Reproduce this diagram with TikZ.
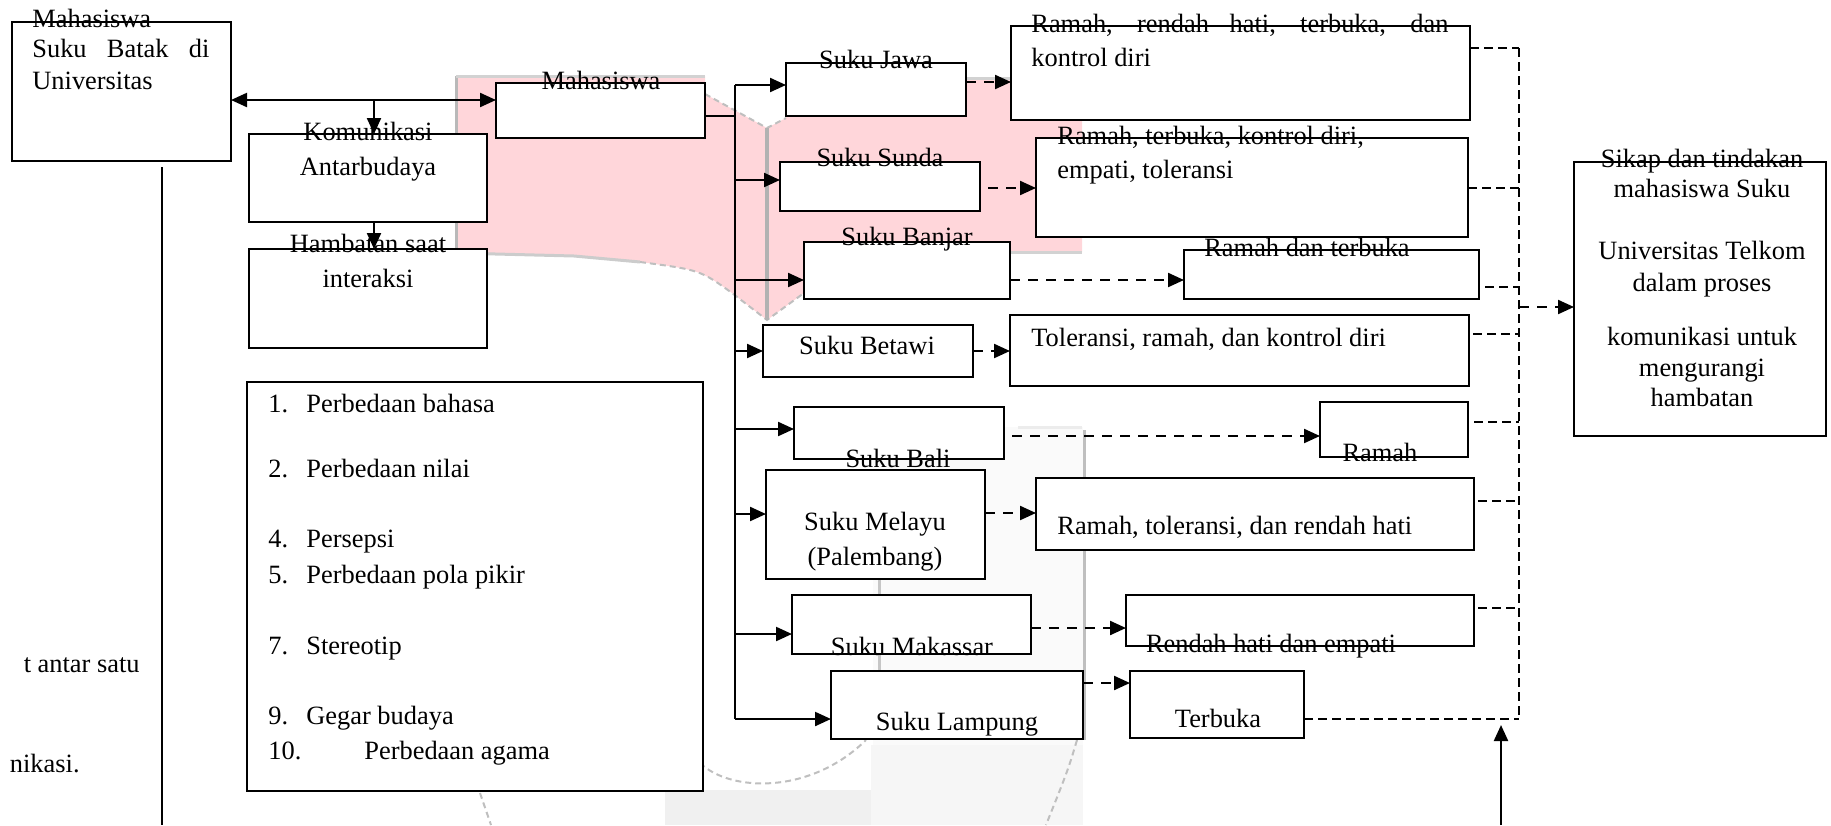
\documentclass[tikz,border=0pt]{standalone}
\usepackage{fontspec}
\setmainfont{Liberation Serif}
\usetikzlibrary{arrows.meta,fit}
\definecolor{logopink}{HTML}{FFD6DA}
\newcommand\ff{\fontsize{13.2pt}{16pt}\selectfont}
\newcommand\mkbox[5]{\node[bx, fit={(#2,#3) (#4,#5)}] (#1) {};}
\tikzset{
 bx/.style={draw, line width=0.8pt, fill=white, inner sep=0pt, outer sep=0pt},
 tx/.style={inner sep=0pt, font=\ff, anchor=mid, yshift=-2.5pt},
 txl/.style={inner sep=0pt, font=\ff, anchor=mid west, yshift=-2.5pt},
 tipstyle/.style={-{Triangle[length=8pt,width=7pt]}},
 arr/.style={line width=1.1pt, tipstyle},
 darr/.style={line width=1.1pt, dash pattern=on 5pt off 4pt, tipstyle},
 coll/.style={line width=0.6pt, dash pattern=on 4.5pt off 2.5pt},
 wm/.style={line width=1pt, dash pattern=on 3pt off 2pt},
}
\begin{document}
\begin{tikzpicture}[x=0.5pt,y=-0.5pt]
\useasboundingbox (0,0) rectangle (1831,825);
% ---- watermark (pink part)
\fill[logopink] (456,76) -- (705,76) -- (705,94) -- (767,128) -- (786,118) -- (786,77)
  -- (1082,77) -- (1082,252) -- (804,252) -- (804,293) -- (767,320) -- (732,293)
  .. controls (700,270) .. (640,262) -- (574,256) -- (456,253) -- cycle;
\draw[gray!55, line width=1.5pt] (456,76) -- (456,253);
\draw[gray!35, line width=1.5pt] (456,76) -- (705,76);
\draw[gray!40, line width=1.5pt] (456,253) -- (574,256) -- (640,262);
\draw[gray!50, wm] (705,94) -- (767,128) -- (786,118);
\draw[gray!50, wm] (640,262) .. controls (700,270) .. (732,293) -- (767,320) -- (804,293);
\draw[gray!60, line width=2pt] (767,128) -- (767,320);
\draw[gray!35, line width=1.5pt] (1010,252) -- (1082,252);
\draw[gray!35, line width=1.5pt] (966,78) -- (1010,78);
% ---- watermark (gray part)
\fill[gray!4] (873,427) rectangle (1083,825);
\fill[gray!12] (665,790) rectangle (871,825);
\fill[gray!7] (871,745) rectangle (1083,825);
\draw[gray!50, wm] (700,763) .. controls (730,792) and (810,795) .. (866,740);
\draw[gray!50, wm] (480,793) -- (491,825);
\draw[gray!50, wm] (1077,740) .. controls (1068,770) .. (1046,825);
\draw[gray!50, line width=1.5pt] (1084,430) -- (1084,740);
\draw[gray!45, line width=1.5pt] (879,579) -- (879,672);
\draw[gray!15, line width=1.5pt] (1018,427) -- (1082,427);
% ---- boxes
\mkbox{A}{12}{22}{231}{161}
\mkbox{kom}{249}{134}{487}{222}
\mkbox{ham}{249}{249}{487}{348}
\mkbox{list}{247}{382}{703}{791}
\mkbox{mhs}{496}{83}{705}{138}
\mkbox{jawa}{786}{63}{966}{116}
\mkbox{sunda}{780}{162}{980}{211}
\mkbox{banjar}{804}{242}{1010}{299}
\mkbox{betawi}{763}{325}{973}{377}
\mkbox{bali}{794}{407}{1004}{459}
\mkbox{melayu}{766}{470}{985}{579}
\mkbox{makassar}{792}{595}{1031}{654}
\mkbox{lampung}{831}{671}{1083}{739}
\mkbox{rA}{1011}{26}{1470}{120}
\mkbox{rB}{1036}{138}{1468}{237}
\mkbox{rC}{1184}{250}{1479}{299}
\mkbox{rD}{1010}{315}{1469}{386}
\mkbox{rE}{1320}{402}{1468}{457}
\mkbox{rF}{1036}{478}{1474}{550}
\mkbox{rG}{1126}{595}{1474}{646}
\mkbox{rH}{1130}{671}{1304}{738}
\mkbox{out}{1574}{162}{1826}{436}
% ---- connectors
\draw[line width=1.1pt, {Triangle[length=8pt,width=7pt]}-{Triangle[length=8pt,width=7pt]}]
  (A.east |- 0,100) -- (mhs.west |- 0,100);
\coordinate (k0) at (374,100);
\draw[arr] (k0) -- (kom.north -| k0);
\draw[arr] (kom.south -| k0) -- (ham.north -| k0);
\coordinate (v0) at (162,167);
\coordinate (v1) at (162,825);
\draw[line width=0.8pt] (v0) -- (v1);
\coordinate (t0) at (735,85);
\coordinate (t1) at (735,719);
\draw[line width=1.1pt] (mhs.east |- 0,116) -- (t0 |- 0,116);
\draw[line width=1.1pt] (t0) -- (t1);
\draw[arr] (t0) -- (jawa.west |- t0);
\draw[arr] (t0 |- 0,180) -- (sunda.west |- 0,180);
\draw[arr] (t0 |- 0,280) -- (banjar.west |- 0,280);
\draw[arr] (t0 |- 0,351) -- (betawi.west |- 0,351);
\draw[arr] (t0 |- 0,429) -- (bali.west |- 0,429);
\draw[arr] (t0 |- 0,514) -- (melayu.west |- 0,514);
\draw[arr] (t0 |- 0,634) -- (makassar.west |- 0,634);
\draw[arr] (t1) -- (lampung.west |- t1);
% dashed arrows to traits
\draw[darr] (jawa.east |- 0,82) -- (rA.west |- 0,82);
\draw[darr, shorten <=4pt] (sunda.east |- 0,188) -- (rB.west |- 0,188);
\draw[darr] (banjar.east |- 0,280) -- (rC.west |- 0,280);
\draw[darr] (betawi.east |- 0,351) -- (rD.west |- 0,351);
\draw[darr, shorten <=4pt] (bali.east |- 0,436) -- (rE.west |- 0,436);
\draw[darr] (melayu.east |- 0,513) -- (rF.west |- 0,513);
\draw[darr] (makassar.east |- 0,628) -- (rG.west |- 0,628);
\draw[darr] (lampung.east |- 0,683) -- (rH.west |- 0,683);
% collector
\coordinate (c0) at (1519,48);
\coordinate (c1) at (1519,719);
\draw[coll] (rA.east |- c0) -- (c0);
\draw[coll] (rB.east |- 0,188) -- (c0 |- 0,188);
\draw[coll, shorten <=3pt] (rC.east |- 0,287) -- (c0 |- 0,287);
\draw[coll, shorten <=2pt] (rD.east |- 0,334) -- (c0 |- 0,334);
\draw[coll, shorten <=3pt] (rE.east |- 0,422) -- (c0 |- 0,422);
\draw[coll, shorten <=2pt] (rF.east |- 0,501) -- (c0 |- 0,501);
\draw[coll, shorten <=2pt] (rG.east |- 0,608) -- (c0 |- 0,608);
\draw[coll] (c0) -- (c1);
\draw[coll] (rH.east |- c1) -- (c1);
\draw[darr] (c0 |- 0,307) -- (out.west |- 0,307);
\coordinate (u0) at (1501,825);
\coordinate (u1) at (1501,725);
\draw[arr] (u0) -- (u1);
% ---- texts
\node[txl] (tA1) at (32,18) {Mahasiswa};
\node[txl] (tA2) at (32,48) {\makebox[88.5pt][s]{Suku Batak di}};
\node[txl] (tA3) at (32,80) {Universitas};
\node[tx] (tk1) at (368,131) {Komunikasi};
\node[tx] (tk2) at (368,166) {Antarbudaya};
\node[tx] (th1) at (368,243) {Hambatan saat};
\node[tx] (th2) at (368,278) {interaksi};
\node[tx] (tm) at (601,80) {Mahasiswa};
\node[tx] (tj) at (876,59) {Suku Jawa};
\node[tx] (ts) at (880,157) {Suku Sunda};
\node[tx] (tbj) at (907,236) {Suku Banjar};
\node[tx] (tbt) at (867,345) {Suku Betawi};
\node[tx] (tbl) at (898,458) {Suku Bali};
\node[tx] (tml1) at (875,521) {Suku Melayu};
\node[tx] (tml2) at (875,556) {(Palembang)};
\node[tx] (tmk) at (912,646) {Suku Makassar};
\node[tx] (tlp) at (957,721) {Suku Lampung};
\node[txl] (trA1) at (1031,23) {\makebox[208.5pt][s]{Ramah, rendah hati, terbuka, dan}};
\node[txl] (trA2) at (1031,57) {kontrol diri};
\node[txl] (trB1) at (1057,135) {Ramah, terbuka, kontrol diri,};
\node[txl] (trB2) at (1057,169) {empati, toleransi};
\node[tx] (trC) at (1307,247) {Ramah dan terbuka};
\node[txl] (trD) at (1031,337) {Toleransi, ramah, dan kontrol diri};
\node[tx] (trE) at (1380,452) {Ramah};
\node[txl] (trF) at (1057,525) {Ramah, toleransi, dan rendah hati};
\node[tx] (trG) at (1271,643) {Rendah hati dan empati};
\node[tx] (trH) at (1218,718) {Terbuka};
\node[tx] (to1) at (1702,158) {Sikap dan tindakan};
\node[tx] (to2) at (1702,188) {mahasiswa Suku};
\node[tx] (to3) at (1702,250) {Universitas Telkom};
\node[tx] (to4) at (1702,282) {dalam proses};
\node[tx] (to5) at (1702,336) {komunikasi untuk};
\node[tx] (to6) at (1702,367) {mengurangi};
\node[tx] (to7) at (1702,397) {hambatan};
% list
\node[txl] (n1) at (268,403) {1.};
\node[txl] (l1) at (306,403) {Perbedaan bahasa};
\node[txl] (n2) at (268,468) {2.};
\node[txl] (l2) at (306,468) {Perbedaan nilai};
\node[txl] (n4) at (268,538) {4.};
\node[txl] (l4) at (306,538) {Persepsi};
\node[txl] (n5) at (268,574) {5.};
\node[txl] (l5) at (306,574) {Perbedaan pola pikir};
\node[txl] (n7) at (268,645) {7.};
\node[txl] (l7) at (306,645) {Stereotip};
\node[txl] (n9) at (268,715) {9.};
\node[txl] (l9) at (306,715) {Gegar budaya};
\node[txl] (n10) at (268,750) {10.};
\node[txl] (l10) at (364,750) {Perbedaan agama};
% cut-off page text
\node[inner sep=0pt, font=\ff, anchor=mid east, yshift=-2.5pt] (cut1) at (140,663) {t antar satu};
\node[inner sep=0pt, font=\ff, anchor=mid east, yshift=-2.5pt] (cut2) at (80,763) {nikasi.};
\end{tikzpicture}
\end{document}
